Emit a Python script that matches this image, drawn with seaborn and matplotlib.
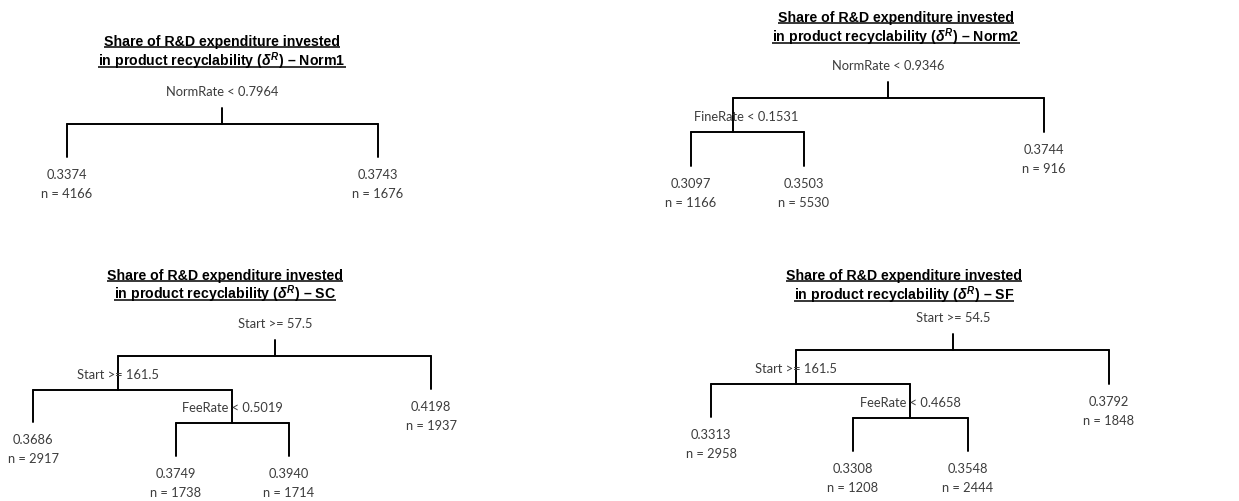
import pandas as pd
import matplotlib
matplotlib.use("Agg")
import matplotlib.pyplot as plt
import seaborn as sns

# Tree contents
suffixes = ['Norm1', 'Norm2', 'SC', 'SF']

norm1_splits = ['NormRate < 0.7964']
norm1_values = [0.3374, 0.3743]
norm1_n = [4166, 1676]

norm2_splits = ['NormRate < 0.9346', 'FineRate < 0.1531']
norm2_values = [0.3097, 0.3503, 0.3744]
norm2_n = [1166, 5530, 916]

sc_splits = ['Start >= 57.5', 'Start >= 161.5', 'FeeRate < 0.5019']
sc_values = [0.3686, 0.3749, 0.3940, 0.4198]
sc_n = [2917, 1738, 1714, 1937]

sf_splits = ['Start >= 54.5', 'Start >= 161.5', 'FeeRate < 0.4658']
sf_values = [0.3313, 0.3308, 0.3548, 0.3792]
sf_n = [2958, 1208, 2444, 1848]

# Tree shapes: parent of each node in preorder (-1 = root), split nodes vs leaves follow the order above
norm1_parent = [-1, 0, 0]
norm2_parent = [-1, 0, 1, 1, 0]
sc_parent = [-1, 0, 1, 1, 3, 3, 0]
sf_parent = [-1, 0, 1, 1, 3, 3, 0]

# Layout in pixels (x, y of each node), title centre and baselines
layouts = [
    dict(xy=[(222, 125), (67, 158), (378, 158)], title=(222, 46, 66), dx={}),
    dict(xy=[(888, 99), (733, 133), (691, 167), (804, 167), (1044, 133)],
         title=(896, 22, 42), dx={1: 13}),
    dict(xy=[(275, 357), (118, 391), (33, 423), (232, 424), (176, 457), (289, 457), (431, 390)],
         title=(225, 280, 299), dx={}),
    dict(xy=[(953, 351), (796, 385), (711, 418), (910, 419), (853, 452), (968, 452), (1109, 385)],
         title=(904, 280, 300), dx={}),
]

trees = [
    (norm1_parent, norm1_splits, norm1_values, norm1_n),
    (norm2_parent, norm2_splits, norm2_values, norm2_n),
    (sc_parent, sc_splits, sc_values, sc_n),
    (sf_parent, sf_splits, sf_values, sf_n),
]

sns.set_theme(style='white')
plt.rcParams['mathtext.fontset'] = 'custom'
plt.rcParams['mathtext.it'] = 'Liberation Sans:italic:bold'
plt.rcParams['mathtext.rm'] = 'Liberation Sans:bold'
plt.rcParams['mathtext.bf'] = 'Liberation Sans:bold'

W, H = 1239, 502
fig = plt.figure(figsize=(W / 100, H / 100), dpi=100)
ax = fig.add_axes([0, 0, 1, 1])

node_font = dict(family=['Lato', 'DejaVu Sans'], fontsize=9.3, color='#3c3c3c')
title_font = dict(family=['Liberation Sans', 'DejaVu Sans'], fontsize=10.2,
                  fontweight='bold', color='black')

segs = []
title_texts = []
for k, ((parent, splits, values, counts), lay) in enumerate(zip(trees, layouts)):
    xy = lay['xy']
    children = {i: [] for i in range(len(parent))}
    for i, p in enumerate(parent):
        if p >= 0:
            children[p].append(i)
    si, li = 0, 0
    for i, (x, y) in enumerate(xy):
        if parent[i] < 0:
            segs.append((f'{k}-stem', [x, x], [y - 16, y]))
        else:
            px, py = xy[parent[i]]
            segs.append((f'{k}-v{i}', [x, x], [py, y]))
        if children[i]:
            cx = [xy[c][0] for c in children[i]]
            segs.append((f'{k}-h{i}', [min(cx), max(cx)], [y, y]))
            ly = y - 33 if parent[i] < 0 else y - 16
            ax.text(x + lay['dx'].get(i, 0), ly, splits[si], ha='center', va='center', **node_font)
            si += 1
        else:
            ax.text(x, y + 17, f'{values[li]:.4f}', ha='center', va='center', **node_font)
            ax.text(x, y + 36, f'n = {counts[li]}', ha='center', va='center', **node_font)
            li += 1

    tx, b1, b2 = lay['title']
    t1 = ax.text(tx, b1, 'Share of R&D expenditure invested', ha='center', va='baseline', **title_font)
    t2 = ax.text(tx, b2, 'in product recyclability ($\\delta^{R}$) \u2013 ' + suffixes[k],
                 ha='center', va='baseline', **title_font)
    title_texts += [(t1, b1), (t2, b2)]

rows = []
for name, xs, ys in segs:
    for x, y in zip(xs, ys):
        rows.append({'seg': name, 'x': x, 'y': y})
seg_df = pd.DataFrame(rows)
sns.lineplot(data=seg_df, x='x', y='y', units='seg', estimator=None, sort=False,
             color='black', linewidth=1.4, legend=False, ax=ax)

ax.set_xlim(0, W)
ax.set_ylim(H, 0)
ax.axis('off')

# underline the titles
fig.canvas.draw()
renderer = fig.canvas.get_renderer()
for t, base in title_texts:
    bb = t.get_window_extent(renderer)
    ax.plot([bb.x0, bb.x1], [base + 2, base + 2], color='black', linewidth=1.1,
            solid_capstyle='butt')

fig.savefig('out.png', dpi=100)
